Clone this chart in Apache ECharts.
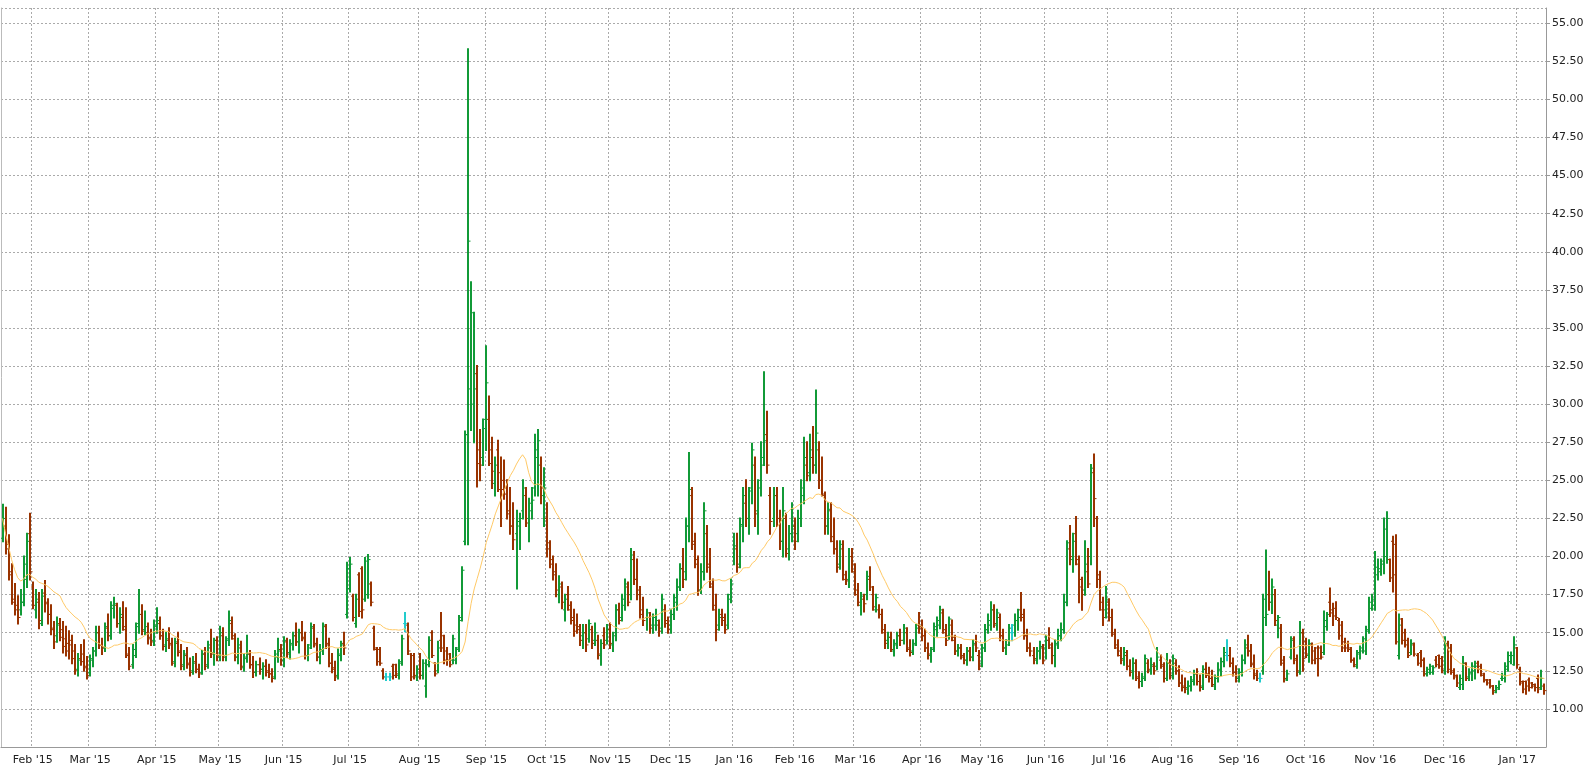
<!DOCTYPE html>
<html><head><meta charset="utf-8">
<script src="https://cdn.jsdelivr.net/npm/echarts@6/dist/echarts.min.js"></script>
<style>html,body{margin:0;padding:0;background:#fff}#c{width:1596px;height:772px}</style>
</head><body><div id="c"></div>
<script>
// month labels and per-month daily OHLC [open, high, low, close]
const monthLabels = ["Jan '15","Feb '15","Mar '15","Apr '15","May '15","Jun '15","Jul '15","Aug '15","Sep '15","Oct '15","Nov '15","Dec '15","Jan '16","Feb '16","Mar '16","Apr '16","May '16","Jun '16","Jul '16","Aug '16","Sep '16","Oct '16","Nov '16","Dec '16","Jan '17"];
const m1501=[[21.2,23.4,21.0,22.5],[22.0,23.2,20.2,20.5],[20.8,21.4,18.5,19.0],[18.8,19.5,16.9,17.2],[17.0,18.2,16.2,16.5],[16.8,17.4,15.6,16.0],[16.5,17.8,16.2,17.0],[17.0,20.0,16.8,19.5],[18.5,21.5,18.0,21.0],[21.5,22.8,18.5,19.0]];
const m1502=[[18.0,18.3,16.6,16.8],[16.5,17.8,16.0,17.2],[17.0,17.6,15.3,15.8],[15.6,17.8,15.5,17.4],[17.6,18.4,16.4,17.0],[16.9,17.2,15.6,16.2],[16.2,16.8,14.9,15.2],[15.3,15.7,14.0,14.4],[14.8,16.0,14.4,15.5],[15.6,15.9,14.5,14.7],[15.2,15.7,13.7,14.1],[14.6,15.4,13.5,13.8],[14.3,15.1,13.3,14.2],[14.5,14.8,13.0,13.3],[13.8,14.2,12.3,12.5],[12.6,13.6,12.2,13.2],[13.3,14.2,12.9,13.1],[13.6,14.5,12.5,12.8],[12.7,13.4,12.0,12.2]];
const m1503=[[12.4,13.5,12.2,13.3],[13.2,14.0,12.8,13.8],[13.8,15.4,13.5,15.0],[15.0,15.4,14.0,14.2],[14.2,14.6,13.6,14.0],[14.0,15.6,13.8,15.4],[15.3,16.2,14.5,14.8],[14.8,17.0,14.6,16.8],[16.6,17.3,16.0,16.9],[16.8,16.9,15.4,15.6],[15.6,16.6,15.0,16.2],[16.0,17.0,15.2,15.4],[15.2,16.6,13.4,13.6],[13.5,14.0,12.6,12.8],[12.9,14.2,12.7,13.9],[13.5,15.6,13.4,15.4],[15.6,17.8,15.0,16.2],[16.2,16.8,14.9,15.1],[15.2,16.4,14.9,15.4],[15.0,15.6,14.3,14.6],[14.7,15.2,14.2,14.4],[14.5,15.8,14.2,15.5]];
const m1504=[[15.4,16.6,15.0,15.8],[15.6,16.0,14.6,14.8],[14.8,15.2,13.9,14.1],[14.2,15.0,13.8,14.6],[14.5,15.3,14.0,14.3],[14.2,14.6,12.9,13.0],[13.1,14.6,12.8,14.4],[14.3,15.0,13.5,13.7],[13.8,14.2,12.6,12.8],[12.9,13.8,12.6,13.6],[13.5,14.0,12.7,12.9],[13.0,13.3,12.2,12.4],[12.5,13.4,12.3,13.0],[13.1,13.6,12.4,12.6],[12.6,12.9,12.1,12.3],[12.4,13.8,12.3,13.6],[13.6,14.0,12.6,12.8],[12.9,14.4,12.7,14.2],[14.0,15.2,13.4,13.6],[13.7,14.6,12.9,14.5],[14.5,14.7,13.2,13.5]];
const m1505=[[13.4,15.4,13.2,15.0],[14.8,15.3,13.2,13.4],[13.5,14.7,13.2,14.5],[14.6,16.4,14.2,15.8],[15.6,16.0,14.6,14.8],[14.6,14.9,13.2,13.4],[13.4,14.6,13.0,14.2],[14.0,14.4,12.6,12.8],[12.7,13.6,12.5,13.4],[13.3,14.8,13.1,13.6],[13.6,13.8,12.7,12.9],[12.9,13.4,12.1,12.4],[12.4,13.1,12.2,12.9],[12.9,13.3,12.3,12.6],[12.6,13.0,12.0,12.8],[12.8,13.2,12.2,12.4],[12.5,12.9,12.1,12.3],[12.3,12.6,11.8,12.0],[12.1,13.8,12.0,13.6],[13.4,14.6,13.1,13.8],[13.9,14.2,12.9,13.2]];
const m1506=[[13.2,14.7,12.8,14.5],[14.4,14.6,13.4,13.6],[13.7,14.5,13.3,14.3],[14.2,15.0,13.9,14.8],[14.8,15.6,14.2,14.4],[14.4,15.2,13.7,15.0],[15.0,15.7,14.5,14.7],[14.6,15.0,13.3,13.5],[13.5,14.2,13.2,14.0],[14.2,15.6,14.0,15.4],[15.3,15.5,14.1,14.3],[14.2,14.6,13.2,13.4],[13.4,14.2,13.0,13.9],[13.8,15.6,13.6,15.5],[15.4,15.5,14.0,14.2],[14.3,14.6,12.8,13.0],[13.0,13.6,12.4,12.6],[12.7,13.1,11.9,12.1],[12.2,13.9,12.0,13.6],[13.5,14.4,13.2,14.2],[14.3,15.0,13.6,14.0],[16.2,19.6,16.0,19.2]];
const m1507=[[17.9,19.9,17.7,19.5],[17.4,17.5,15.8,16.0],[15.6,17.5,15.4,17.2],[18.8,18.9,16.1,16.4],[19.2,19.3,16.0,16.5],[17.2,19.9,17.1,19.7],[17.5,20.1,17.3,19.8],[18.2,18.3,16.8,17.0],[15.3,15.4,13.9,14.0],[13.9,14.0,12.9,13.1],[13.9,14.0,12.9,13.0],[12.5,12.6,12.0,12.1],[12.1,12.3,11.9,12.1],[12.1,12.3,11.9,12.1],[12.8,12.9,12.0,12.2],[12.9,12.9,12.1,12.3],[12.2,13.2,12.0,13.0],[13.1,14.8,12.9,14.6],[15.6,16.3,15.1,15.6],[15.5,15.6,13.6,13.8],[13.6,13.6,11.9,12.1],[13.5,13.6,12.0,12.2],[12.1,12.8,11.9,12.6]];
const m1508=[[13.6,13.6,12.0,12.2],[12.2,13.2,12.0,13.0],[11.5,13.2,10.8,12.9],[12.9,14.7,12.8,14.5],[15.0,15.1,13.4,13.5],[13.0,13.0,12.2,12.3],[12.5,14.4,12.4,14.0],[14.5,16.3,13.8,14.0],[14.8,14.8,13.0,13.2],[13.8,14.0,12.9,13.2],[13.6,13.6,12.8,12.9],[13.2,14.8,13.0,14.6],[13.2,14.0,13.0,13.9],[14.0,16.1,13.8,15.8],[16.0,19.3,15.8,19.1],[21.0,28.2,20.8,28.0],[28.0,53.3,20.8,40.7],[31.0,38.0,28.3,36.0],[30.0,36.0,27.5,31.0],[32.0,32.5,24.6,26.1],[27.0,28.3,25.0,26.0],[26.5,29.0,26.0,28.4]];
const m1509=[[29.0,33.8,27.0,31.4],[29.0,30.5,26.0,26.1],[27.0,27.8,24.5,25.6],[24.8,26.5,24.0,26.0],[27.0,27.6,24.3,24.4],[25.5,26.5,22.0,24.4],[25.0,26.3,23.8,24.1],[24.5,25.0,22.5,23.0],[22.8,24.5,21.5,22.0],[22.0,23.5,20.5,21.1],[21.5,23.0,17.9,22.3],[22.0,22.8,20.5,22.5],[23.0,25.0,22.5,24.5],[24.0,24.5,22.0,22.2],[22.5,23.8,21.0,23.5],[23.0,24.5,22.5,23.7],[24.5,28.0,24.0,26.5],[27.0,28.3,24.0,27.6],[26.0,26.5,23.5,24.5],[24.0,25.8,22.0,24.5]];
const m1510=[[22.5,23.5,20.0,20.9],[20.5,21.0,19.3,19.5],[19.8,20.0,18.5,19.0],[18.8,19.5,17.4,17.8],[17.5,18.7,17.0,18.2],[18.0,18.3,16.6,17.0],[16.5,17.5,15.8,17.2],[17.5,18.0,16.5,16.8],[16.5,17.0,15.6,15.8],[16.0,16.5,14.8,15.1],[15.5,16.2,15.0,15.4],[15.2,15.5,14.2,14.5],[14.8,15.5,14.0,15.0],[15.0,15.5,13.8,14.2],[14.6,15.8,14.4,15.6],[15.2,15.4,14.0,14.3],[14.5,15.6,14.2,15.0],[14.5,14.8,13.3,13.6],[13.5,14.5,12.9,14.3],[14.8,15.3,14.0,14.2],[14.5,15.5,14.3,15.2]];
const m1511=[[15.2,15.6,14.0,14.3],[14.2,15.0,13.8,14.8],[15.0,16.8,14.5,16.5],[16.5,16.9,15.6,15.8],[16.0,17.5,15.8,17.2],[16.8,18.5,16.5,18.2],[18.0,18.3,16.8,17.0],[17.5,20.5,17.2,20.1],[19.8,20.3,18.2,18.5],[18.5,19.8,17.2,17.5],[17.8,18.0,16.0,16.2],[16.5,17.3,15.5,15.8],[16.0,16.5,15.2,16.3],[16.0,16.3,15.0,15.3],[15.5,16.2,15.0,16.0],[15.5,16.5,15.2,15.8],[15.5,15.8,14.8,15.1],[15.3,17.5,15.0,17.2],[16.5,16.8,15.4,15.6],[15.8,16.0,15.0,15.2]];
const m1512=[[15.5,16.5,15.0,16.2],[16.2,17.5,15.9,17.3],[17.0,18.5,16.5,18.0],[18.0,19.5,17.8,19.2],[19.2,20.5,18.0,18.5],[19.0,22.5,18.5,22.0],[22.0,26.8,21.0,24.4],[24.0,24.5,20.5,21.0],[20.8,21.5,19.3,19.8],[19.5,20.0,17.5,17.8],[17.8,19.5,17.6,19.0],[19.0,23.5,18.5,23.0],[21.5,22.0,19.0,19.3],[19.5,20.5,18.0,18.2],[18.0,18.5,16.5,16.8],[16.5,17.5,14.5,15.2],[15.5,16.5,15.2,16.0],[16.2,16.5,15.5,15.8],[16.0,16.2,15.0,15.2],[15.5,17.5,15.3,17.2],[17.5,18.5,17.0,18.2]];
const m1601=[[20.0,21.5,19.5,20.7],[20.5,21.5,19.0,19.3],[19.5,22.5,19.3,22.1],[22.0,24.5,21.0,24.0],[23.5,25.0,22.0,22.5],[22.5,24.5,21.5,24.3],[24.5,27.4,23.5,27.0],[26.0,26.5,22.0,22.8],[23.0,25.0,21.5,24.5],[25.0,27.5,24.0,26.0],[26.5,32.1,26.0,27.6],[28.0,29.5,25.5,26.0],[24.0,24.5,21.5,22.3],[22.5,24.5,22.0,24.0],[24.0,24.5,22.0,22.5],[22.5,23.0,20.5,21.0],[21.0,24.5,20.0,23.0],[22.5,22.8,20.0,20.2],[20.5,22.0,19.8,21.5],[21.5,23.5,21.0,22.0]];
const m1602=[[22.0,22.5,20.5,21.0],[21.5,23.0,21.0,22.5],[22.5,25.0,22.0,24.5],[24.0,27.8,23.5,26.5],[26.0,27.5,25.0,25.3],[25.5,28.0,25.0,27.0],[26.5,28.5,25.5,26.0],[26.0,30.9,25.5,28.1],[27.0,27.5,24.5,25.0],[25.0,26.5,24.0,24.1],[24.0,24.2,21.5,22.0],[22.0,23.5,21.5,23.1],[23.0,23.5,21.0,21.3],[21.0,22.5,20.2,20.5],[20.5,21.0,19.0,19.3],[19.5,21.0,19.2,20.8],[20.5,21.0,18.5,18.8],[18.5,19.0,18.2,18.4],[18.5,20.5,18.0,20.0],[20.0,20.5,19.0,19.5]];
const m1603=[[19.0,19.5,17.5,17.8],[17.5,18.2,16.8,17.0],[16.8,17.6,16.2,17.4],[17.2,17.5,16.4,16.9],[17.5,19.0,17.2,18.7],[18.5,19.3,17.8,18.0],[17.5,18.0,16.5,16.7],[16.5,17.5,16.4,17.3],[16.5,16.8,16.0,16.2],[16.2,16.5,15.0,15.2],[15.0,15.5,14.0,14.3],[14.5,15.0,14.0,14.7],[14.7,15.0,13.8,13.9],[13.8,14.5,13.5,14.3],[14.2,15.0,14.0,14.8],[14.8,15.2,14.2,14.5],[14.5,15.5,14.3,15.3],[15.0,15.3,13.8,14.0],[13.9,14.5,13.5,13.7],[13.8,14.5,13.6,14.2],[14.3,15.5,14.2,15.3],[15.5,16.3,15.0,15.4]];
const m1604=[[15.3,15.8,14.5,14.8],[14.8,15.2,13.8,14.0],[14.0,14.3,13.3,13.6],[13.5,14.0,13.1,13.9],[14.0,15.6,13.8,15.4],[15.2,16.0,14.8,15.8],[15.5,16.7,15.3,16.5],[16.3,16.5,15.0,15.2],[15.0,15.5,14.2,14.5],[14.8,16.0,14.6,15.9],[15.5,15.8,14.5,14.7],[14.5,14.8,13.6,13.8],[13.8,14.2,13.5,14.0],[14.0,14.2,13.3,13.5],[13.4,13.6,13.0,13.2],[13.2,14.0,12.9,13.8],[13.8,14.0,13.2,13.4],[13.4,14.5,13.2,14.3],[14.2,14.8,13.8,14.0],[13.5,13.8,12.6,12.8]];
const m1605=[[13.0,14.2,12.8,14.0],[14.0,15.5,13.8,15.2],[15.2,16.2,15.0,15.8],[15.5,17.0,15.2,16.5],[16.5,16.8,15.4,15.6],[15.5,16.5,15.2,16.3],[16.0,16.2,14.5,14.8],[14.8,15.2,13.8,14.0],[14.0,14.5,13.6,14.2],[14.5,15.5,14.2,15.3],[15.0,15.5,14.5,15.0],[15.5,16.2,14.8,15.8],[15.8,16.5,15.2,16.0],[16.5,17.6,15.8,16.2],[16.0,16.5,14.6,14.8],[14.8,15.2,13.8,14.0],[14.0,14.3,13.5,13.8],[13.5,14.0,13.0,13.3],[13.2,14.0,13.0,13.8],[13.8,14.4,13.3,14.1],[14.0,14.2,13.0,13.2]];
const m1606=[[14.0,14.8,13.3,14.5],[14.5,15.3,14.0,14.2],[14.0,14.3,13.0,13.5],[13.5,14.5,12.8,14.2],[14.3,15.2,14.0,14.8],[14.8,15.6,14.5,15.2],[15.2,17.5,15.0,17.0],[17.0,21.0,16.8,20.9],[20.5,22.0,19.5,20.0],[19.8,21.5,19.0,21.0],[21.5,22.6,19.5,19.8],[19.5,20.0,17.0,18.5],[18.0,18.6,16.5,17.5],[17.8,21.0,17.5,19.5],[19.0,20.5,18.0,18.2],[20.0,26.0,19.5,25.8],[25.5,26.7,22.0,23.8],[22.5,22.6,18.0,18.8],[18.5,19.0,16.5,17.0],[16.5,17.3,15.5,16.0],[16.5,18.0,16.0,17.2]];
const m1607=[[17.0,17.2,15.8,16.0],[16.0,16.5,14.8,15.0],[14.9,15.2,14.0,14.2],[14.0,14.5,13.5,13.8],[13.5,14.0,13.0,13.2],[13.3,14.0,12.9,13.7],[13.5,13.8,12.6,12.8],[12.8,13.2,12.2,12.4],[12.5,13.3,12.0,13.0],[13.0,13.2,11.9,12.1],[12.0,12.4,11.4,11.8],[11.8,12.3,11.5,12.1],[12.0,13.5,11.9,13.3],[13.0,13.2,12.4,12.6],[12.5,13.3,12.3,12.9],[12.8,13.0,12.3,12.5],[12.8,14.0,12.6,13.4],[13.2,13.5,12.7,12.9],[12.8,13.0,11.8,12.0],[12.0,13.6,11.9,13.0],[13.0,13.2,12.0,12.2]];
const m1608=[[12.2,13.5,12.0,13.3],[13.0,13.2,12.3,12.5],[12.5,12.8,11.5,11.7],[11.7,12.2,11.2,11.4],[11.5,12.0,11.1,11.3],[11.4,11.8,11.0,11.5],[11.5,12.1,11.2,11.9],[11.8,12.5,11.6,12.3],[12.3,12.6,11.6,11.8],[11.8,12.2,11.2,11.4],[11.5,12.8,11.3,12.6],[12.6,13.0,12.1,12.2],[12.3,12.7,11.8,12.0],[12.0,12.5,11.5,11.6],[11.5,12.2,11.3,12.0],[12.0,13.0,11.8,12.6],[12.5,13.3,12.2,13.1],[13.1,14.0,12.8,13.7],[13.5,14.5,13.2,13.5],[13.5,14.0,12.8,13.0],[13.0,13.3,12.2,12.4],[12.4,12.8,11.8,12.0]];
const m1609=[[12.0,12.6,11.8,12.4],[12.4,13.5,12.2,13.2],[13.2,14.5,13.0,14.2],[14.0,14.8,13.5,13.8],[13.8,14.2,12.8,13.0],[12.9,13.5,12.0,12.3],[12.2,12.5,11.9,12.0],[12.0,12.3,11.8,12.0],[12.5,17.5,12.3,17.2],[16.0,20.4,15.5,16.2],[17.5,19.0,16.5,17.0],[17.0,18.5,16.3,18.0],[17.5,17.8,15.5,15.8],[15.5,16.1,14.7,16.0],[15.3,15.5,12.9,13.0],[13.2,13.4,11.8,12.0],[11.9,12.5,11.9,12.3],[13.4,14.7,13.3,14.5],[14.6,14.7,13.0,13.2],[13.3,13.5,12.2,12.5],[12.4,15.7,12.3,15.0],[15.0,15.2,12.5,13.3]];
const m1610=[[14.4,14.6,13.4,13.6],[13.5,14.5,13.1,14.3],[14.2,14.3,13.0,13.2],[13.8,14.0,13.0,13.3],[14.0,14.1,12.2,13.3],[14.0,14.1,13.3,13.4],[13.7,16.4,13.6,15.8],[15.4,16.3,15.2,16.2],[17.0,17.9,16.1,16.3],[16.5,16.9,15.5,16.1],[16.6,17.0,15.9,16.0],[15.8,15.9,14.6,14.8],[15.5,15.7,13.8,14.0],[14.4,14.6,13.8,14.0],[14.3,14.4,13.8,13.9],[14.0,14.0,13.1,13.2],[13.2,13.3,12.8,12.9],[12.8,13.8,12.7,13.6],[13.7,14.1,13.3,14.0],[13.8,14.7,13.7,14.6],[13.8,15.4,13.6,15.2],[15.1,17.3,15.0,17.0],[16.6,17.5,16.5,17.2]];
const m1611=[[16.8,20.3,16.5,19.3],[18.8,19.8,18.5,19.2],[19.0,19.8,18.8,19.7],[19.5,22.5,18.9,21.8],[20.0,22.9,19.6,22.5],[19.8,19.8,18.4,18.6],[21.0,21.3,17.7,18.8],[20.8,21.4,14.3,14.4],[13.5,16.2,13.3,15.5],[15.9,15.9,14.3,14.5],[15.0,15.2,14.1,14.2],[14.5,14.6,13.4,13.5],[13.7,14.5,13.6,14.3],[14.2,14.3,13.5,13.6],[13.5,13.6,12.9,13.0],[13.7,13.8,12.8,13.2],[13.2,13.3,12.2,12.3],[12.3,12.7,12.2,12.6],[12.4,12.9,12.3,12.8],[12.4,12.8,12.3,12.7],[13.2,13.4,12.8,12.9],[13.5,13.5,12.7,12.8],[13.3,13.4,12.4,12.5]];
const m1612=[[12.5,14.7,12.3,14.3],[14.2,14.4,12.4,12.6],[14.0,14.2,12.3,12.4],[12.5,12.6,12.0,12.2],[12.1,12.2,11.5,11.7],[11.4,12.2,11.3,12.0],[11.6,13.4,11.3,13.0],[13.0,13.0,11.9,12.0],[12.1,12.6,11.9,12.4],[12.3,13.0,11.9,12.8],[12.5,13.1,12.0,12.8],[13.0,13.1,12.4,12.6],[12.8,12.9,12.2,12.3],[12.2,12.3,11.8,11.9],[11.9,11.9,11.6,11.7],[11.9,11.9,11.4,11.5],[11.5,11.5,11.0,11.2],[11.1,11.5,11.1,11.4],[11.3,11.8,11.3,11.6],[12.0,12.3,11.9,12.2],[12.0,13.0,11.8,12.8],[12.6,13.7,12.5,13.5],[13.1,13.7,13.0,13.5],[12.9,14.7,12.9,14.2]];
const m1701=[[14.0,14.0,12.7,12.9],[12.6,12.7,11.6,11.7],[11.8,11.8,11.1,11.3],[11.8,11.8,11.0,11.5],[11.9,12.0,11.2,11.4],[11.7,11.7,11.4,11.5],[11.6,11.6,11.2,11.4],[12.0,12.2,11.1,11.3],[11.4,12.5,11.3,12.0],[11.5,11.6,11.0,11.2]];
const months=[m1501,m1502,m1503,m1504,m1505,m1506,m1507,m1508,m1509,m1510,m1511,m1512,m1601,m1602,m1603,m1604,m1605,m1606,m1607,m1608,m1609,m1610,m1611,m1612,m1701];
const yTicks = {min:7.5, max:56, interval:2.5};
const maPeriod = 20;

const categories=[], ohlc=[], labelAt={};
months.forEach((m,mi)=>{ m.forEach((d,di)=>{ const idx=categories.length; categories.push(monthLabels[mi]+' #'+(di+1)); if(di===0&&mi>0) labelAt[idx]=monthLabels[mi]; ohlc.push(d); }); });
const closes=ohlc.map(d=>d[3]);
const ma=closes.map((c,i)=>{const s=Math.max(0,i-maPeriod+1);let t=0;for(let k=s;k<=i;k++)t+=closes[k];return +(t/(i-s+1)).toFixed(2);});
const UP='#119a37', DOWN='#993300', FLAT='#22cccc';
const chart=echarts.init(document.getElementById('c'),null,{renderer:'canvas'});
chart.setOption({
  animation:false,
  grid:{left:1,right:50,top:8,bottom:25},
  xAxis:{type:'category',data:categories,boundaryGap:true,
    axisLine:{lineStyle:{color:'#999'}},
    axisTick:{interval:(i)=>labelAt[i]!==undefined,lineStyle:{color:'#999'},length:4},
    axisLabel:{interval:(i)=>labelAt[i]!==undefined,formatter:(v,i)=>labelAt[i]||'',color:'#222',fontFamily:'DejaVu Sans',fontSize:11,margin:8},
    splitLine:{show:true,interval:(i)=>labelAt[i]!==undefined,lineStyle:{color:'#aaa',type:[2,2]}}},
  yAxis:[{type:'value',position:'right',min:yTicks.min,max:yTicks.max,interval:yTicks.interval,
    axisLine:{show:true,lineStyle:{color:'#999'}},axisTick:{show:true,length:4,lineStyle:{color:'#999'}},
    axisLabel:{formatter:v=>v.toFixed(2),color:'#222',fontFamily:'DejaVu Sans',fontSize:11,showMinLabel:false,showMaxLabel:false,margin:6},
    splitLine:{show:true,lineStyle:{color:'#aaa',type:[2,2]}}},
    {type:'value',position:'left',min:yTicks.min,max:yTicks.max,axisLine:{show:true,lineStyle:{color:'#bbb'}},axisLabel:{show:false},axisTick:{show:false},splitLine:{show:false}}],
  series:[
    {type:'custom',data:ohlc.map((d,i)=>[i,d[0],d[1],d[2],d[3]]),encode:{x:0,y:[1,2,3,4]},
     renderItem:(params,api)=>{
       const i=api.value(0),o=api.value(1),h=api.value(2),l=api.value(3),c=api.value(4);
       const ph=api.coord([i,h]),pl=api.coord([i,l]),po=api.coord([i,o]),pc=api.coord([i,c]);
       const col=c>o?UP:(c<o?DOWN:FLAT);
       const x=Math.round(ph[0]);
       const st={stroke:col,lineWidth:2};
       return {type:'group',children:[
         {type:'line',shape:{x1:x,y1:ph[1]-1,x2:x,y2:pl[1]+1},style:st},
         {type:'line',shape:{x1:x-2,y1:po[1],x2:x,y2:po[1]},style:{stroke:col,lineWidth:1}},
         {type:'line',shape:{x1:x,y1:pc[1],x2:x+2.5,y2:pc[1]},style:{stroke:col,lineWidth:1}}]};
     },z:3},
    {type:'line',data:ma,symbol:'none',smooth:false,lineStyle:{color:'#ffc966',width:1},z:4}
  ]
});
</script></body></html>
